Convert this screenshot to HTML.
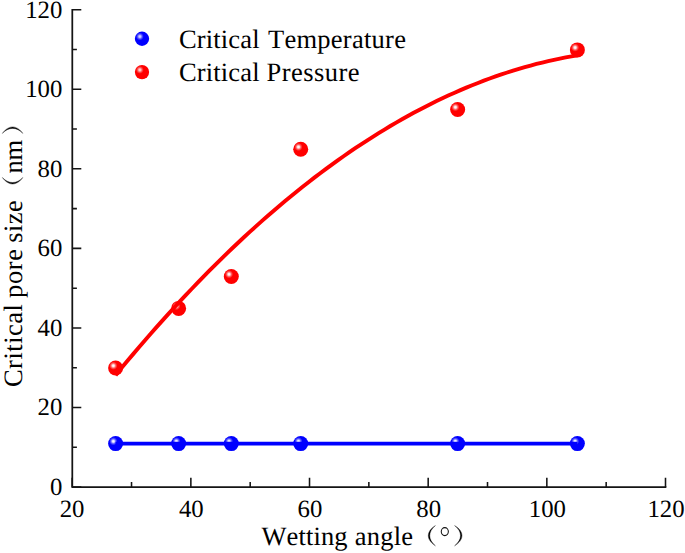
<!DOCTYPE html>
<html><head><meta charset="utf-8"><title>Critical pore size vs wetting angle</title>
<style>html,body{margin:0;padding:0;background:#fff;}body{width:685px;height:553px;overflow:hidden;}svg{display:block;}text{font-family:"Liberation Serif",serif;fill:#000;font-kerning:none;text-rendering:geometricPrecision;}</style></head><body>
<svg width="685" height="553" viewBox="0 0 685 553">
<defs>
<radialGradient id="gb" cx="0.35" cy="0.345" r="0.27"><stop offset="0" stop-color="#ffffff"/><stop offset="0.25" stop-color="#e6e6ff"/><stop offset="0.62" stop-color="#5a5aff"/><stop offset="1" stop-color="#0000ff"/></radialGradient>
<radialGradient id="gr" cx="0.35" cy="0.345" r="0.27"><stop offset="0" stop-color="#ffffff"/><stop offset="0.25" stop-color="#ffe6e6"/><stop offset="0.62" stop-color="#ff5a5a"/><stop offset="1" stop-color="#ff0000"/></radialGradient>
<radialGradient id="lb" cx="0.35" cy="0.345" r="0.27"><stop offset="0" stop-color="#d8d8ff"/><stop offset="0.25" stop-color="#c4c4ff"/><stop offset="0.62" stop-color="#5050ff"/><stop offset="1" stop-color="#0000ff"/></radialGradient>
<radialGradient id="lr" cx="0.35" cy="0.345" r="0.27"><stop offset="0" stop-color="#ffd8d8"/><stop offset="0.25" stop-color="#ffc4c4"/><stop offset="0.62" stop-color="#ff5050"/><stop offset="1" stop-color="#ff0000"/></radialGradient>
</defs>
<rect width="685" height="553" fill="#fff"/>
<g stroke="#141414" fill="none" stroke-linecap="butt">
<path d="M72.30 8.98 V487.00 H666.37" stroke-width="1.75" stroke-linejoin="miter"/>
<path d="M72.30 487.00 h9.00M72.30 447.23 h4.60M72.30 407.46 h9.00M72.30 367.69 h4.60M72.30 327.92 h9.00M72.30 288.15 h4.60M72.30 248.38 h9.00M72.30 208.61 h4.60M72.30 168.84 h9.00M72.30 129.07 h4.60M72.30 89.30 h9.00M72.30 49.53 h4.60M72.30 9.76 h9.00M72.20 487.00 v-9.30M131.53 487.00 v-4.90M190.86 487.00 v-9.30M250.19 487.00 v-4.90M309.52 487.00 v-9.30M368.85 487.00 v-4.90M428.18 487.00 v-9.30M487.51 487.00 v-4.90M546.84 487.00 v-9.30M606.17 487.00 v-4.90M665.50 487.00 v-9.30" stroke-width="1.55"/>
</g>
<g font-size="24.80">
<text x="62.40" y="495.00" text-anchor="end">0</text>
<text x="62.40" y="415.46" text-anchor="end">20</text>
<text x="62.40" y="335.92" text-anchor="end">40</text>
<text x="62.40" y="256.38" text-anchor="end">60</text>
<text x="62.40" y="176.84" text-anchor="end">80</text>
<text x="62.40" y="97.30" text-anchor="end">100</text>
<text x="62.40" y="17.76" text-anchor="end">120</text>
<text x="72.10" y="516.50" text-anchor="middle">20</text>
<text x="191.36" y="516.50" text-anchor="middle">40</text>
<text x="310.02" y="516.50" text-anchor="middle">60</text>
<text x="428.68" y="516.50" text-anchor="middle">80</text>
<text x="547.34" y="516.50" text-anchor="middle">100</text>
<text x="666.00" y="516.50" text-anchor="middle">120</text>
</g>
<circle cx="115.61" cy="443.60" r="7.50" fill="url(#gb)"/>
<circle cx="178.62" cy="443.60" r="7.50" fill="url(#gb)"/>
<circle cx="231.30" cy="443.60" r="7.50" fill="url(#gb)"/>
<circle cx="300.72" cy="443.60" r="7.50" fill="url(#gb)"/>
<circle cx="457.65" cy="443.60" r="7.50" fill="url(#gb)"/>
<circle cx="577.38" cy="443.60" r="7.50" fill="url(#gb)"/>
<path d="M115.61 443.60 H577.38" stroke="#0000ff" stroke-width="3.90" fill="none"/>
<circle cx="115.61" cy="368.04" r="7.50" fill="url(#gr)"/>
<circle cx="178.62" cy="308.38" r="7.50" fill="url(#gr)"/>
<circle cx="231.30" cy="276.57" r="7.50" fill="url(#gr)"/>
<circle cx="300.72" cy="149.30" r="7.50" fill="url(#gr)"/>
<circle cx="457.65" cy="109.53" r="7.50" fill="url(#gr)"/>
<circle cx="577.38" cy="49.88" r="7.50" fill="url(#gr)"/>
<path d="M115.61 375.21 L121.46 368.10 L127.30 361.08 L133.15 354.13 L138.99 347.26 L144.84 340.47 L150.68 333.76 L156.53 327.13 L162.37 320.58 L168.22 314.10 L174.06 307.70 L179.91 301.38 L185.75 295.14 L191.60 288.98 L197.44 282.89 L203.29 276.89 L209.13 270.96 L214.98 265.11 L220.82 259.34 L226.67 253.65 L232.51 248.03 L238.36 242.49 L244.20 237.04 L250.05 231.66 L255.89 226.35 L261.74 221.13 L267.58 215.99 L273.43 210.92 L279.27 205.93 L285.12 201.02 L290.96 196.19 L296.81 191.44 L302.66 186.76 L308.50 182.17 L314.35 177.65 L320.19 173.21 L326.04 168.85 L331.88 164.56 L337.73 160.36 L343.57 156.23 L349.42 152.18 L355.26 148.21 L361.11 144.32 L366.95 140.51 L372.80 136.77 L378.64 133.12 L384.49 129.54 L390.33 126.04 L396.18 122.62 L402.02 119.27 L407.87 116.01 L413.71 112.82 L419.56 109.71 L425.40 106.68 L431.25 103.73 L437.09 100.86 L442.94 98.06 L448.78 95.35 L454.63 92.71 L460.47 90.15 L466.32 87.67 L472.16 85.26 L478.01 82.94 L483.85 80.69 L489.70 78.52 L495.54 76.43 L501.39 74.42 L507.23 72.49 L513.08 70.63 L518.92 68.85 L524.77 67.16 L530.62 65.54 L536.46 63.99 L542.31 62.53 L548.15 61.14 L554.00 59.84 L559.84 58.61 L565.69 57.46 L571.53 56.39 L577.38 55.39" stroke="#ff0000" stroke-width="3.90" fill="none" stroke-linejoin="round"/>
<circle cx="142.0" cy="38.75" r="7.15" fill="url(#lb)"/>
<circle cx="142.0" cy="72.1" r="7.15" fill="url(#lr)"/>
<text x="179.00" y="47.60" font-size="26.50" style="letter-spacing:0.153px">Critical</text>
<text x="268.00" y="47.60" font-size="26.50" style="letter-spacing:0.254px">Temperature</text>
<text x="179.00" y="81.30" font-size="26.50" style="letter-spacing:0.153px">Critical</text>
<text x="266.50" y="81.30" font-size="26.50" style="letter-spacing:0.464px">Pressure</text>
<text x="261.50" y="545.00" font-size="26.50" style="letter-spacing:0.113px">Wetting</text>
<text x="354.87" y="545.00" font-size="26.50" style="letter-spacing:0.173px">angle</text>
<g fill="#000" stroke="#000" stroke-width="0.35" stroke-linejoin="round">
<path d="M435.40 525.60 C425.93 531.66 425.93 539.74 435.40 545.80 C427.93 539.74 427.93 531.66 435.40 525.60 Z"/>
<path d="M454.60 525.60 C464.47 531.66 464.47 539.74 454.60 545.80 C462.47 539.74 462.47 531.66 454.60 525.60 Z"/>
</g>
<ellipse cx="444.8" cy="531.6" rx="3.55" ry="4.0" fill="none" stroke="#111" stroke-width="1.05"/>
<g transform="translate(22.25 0) rotate(-90)">
<text x="-387.10" y="0.00" font-size="26.50" style="letter-spacing:0.503px">Critical</text>
<text x="-298.00" y="0.00" font-size="26.50" style="letter-spacing:0.678px">pore</text>
<text x="-242.65" y="0.00" font-size="26.50" style="letter-spacing:0.375px">size</text>
<text x="-173.50" y="0.00" font-size="26.50" style="letter-spacing:-0.194px">nm</text>
<g fill="#000" stroke="#000" stroke-width="0.35" stroke-linejoin="round">
<path d="M-177.50 -19.90 C-186.17 -13.75 -186.17 -5.55 -177.50 0.60 C-184.17 -5.55 -184.17 -13.75 -177.50 -19.90 Z"/>
<path d="M-133.40 -19.90 C-124.73 -13.75 -124.73 -5.55 -133.40 0.60 C-126.73 -5.55 -126.73 -13.75 -133.40 -19.90 Z"/>
</g></g>
</svg></body></html>
